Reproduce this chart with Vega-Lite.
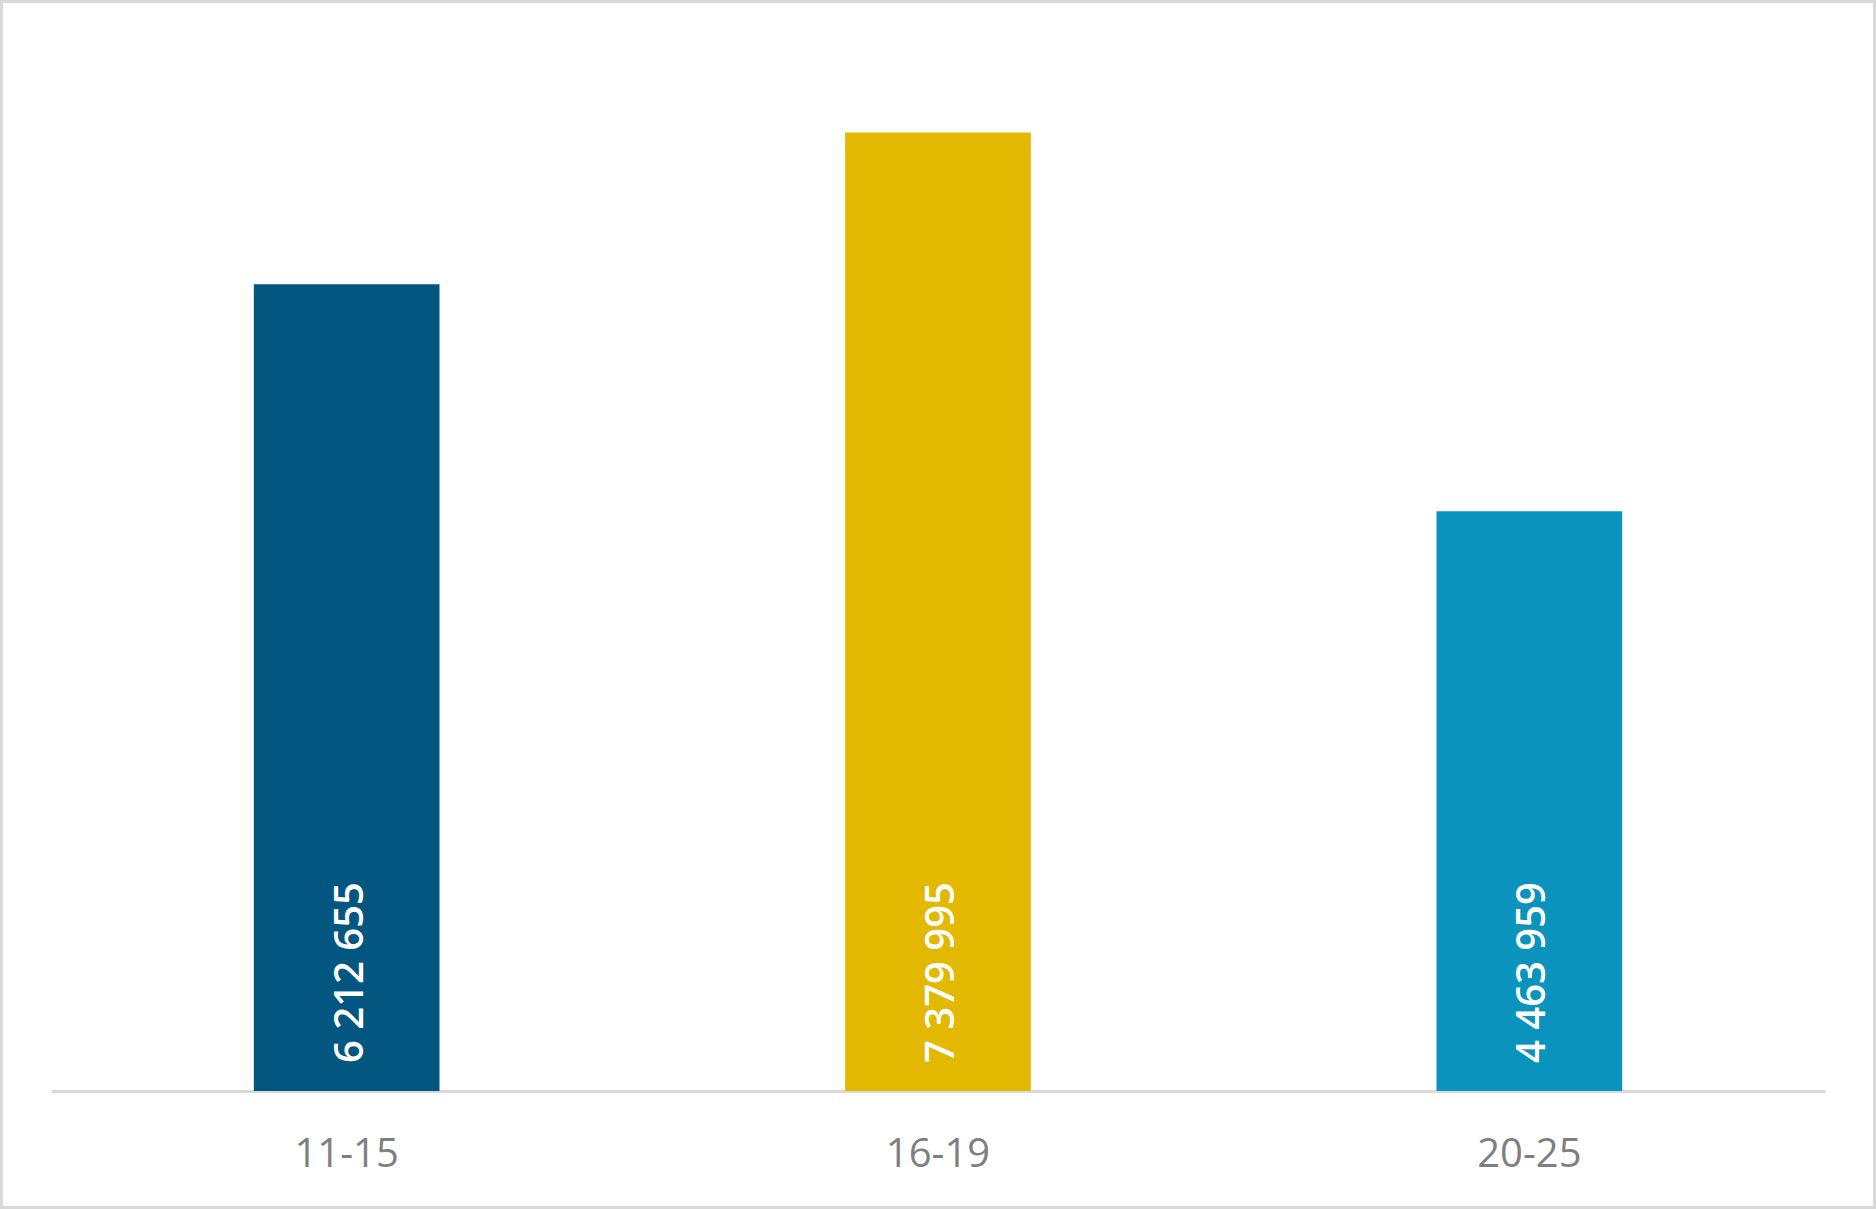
{
  "$schema": "https://vega.github.io/schema/vega-lite/v6.json",
  "width": 1876,
  "height": 1209,
  "autosize": {"type": "none"},
  "padding": 0,
  "background": "#FFFFFF",
  "config": {
    "view": {"stroke": "#D9D9D9", "strokeWidth": 6},
    "font": "Open Sans",
    "locale": {
      "number": {"decimal": ",", "thousands": " ", "grouping": [3], "currency": ["", " kr"]}
    }
  },
  "data": {
    "values": [
      {"group": "11-15", "value": 6212655},
      {"group": "16-19", "value": 7379995},
      {"group": "20-25", "value": 4463959}
    ]
  },
  "encoding": {
    "x": {
      "field": "group",
      "type": "nominal",
      "sort": null,
      "scale": {"range": [51, 1825], "paddingInner": 0.686, "paddingOuter": 0.343},
      "axis": {
        "title": null,
        "labelAngle": 0,
        "labelFont": "Open Sans",
        "labelFontSize": 40,
        "labelColor": "#7F7F7F",
        "labelPadding": 43,
        "ticks": false,
        "domainColor": "#D9D9D9",
        "domainWidth": 3,
        "offset": -118
      }
    }
  },
  "layer": [
    {
      "mark": {"type": "bar"},
      "encoding": {
        "y": {
          "field": "value",
          "type": "quantitative",
          "scale": {"domain": [0, 8000000], "range": [1091, 52], "nice": false},
          "axis": null
        },
        "color": {
          "field": "group",
          "type": "nominal",
          "scale": {"domain": ["11-15", "16-19", "20-25"], "range": ["#02567F", "#E2B800", "#0A93BD"]},
          "legend": null
        }
      }
    },
    {
      "mark": {
        "type": "text",
        "angle": 270,
        "align": "left",
        "baseline": "middle",
        "dx": 28,
        "dy": 4,
        "fontSize": 40,
        "fontWeight": 600,
        "font": "Open Sans",
        "color": "#FFFFFF"
      },
      "encoding": {
        "y": {"datum": 0, "type": "quantitative"},
        "text": {"field": "value", "type": "quantitative", "format": ","}
      }
    }
  ]
}
